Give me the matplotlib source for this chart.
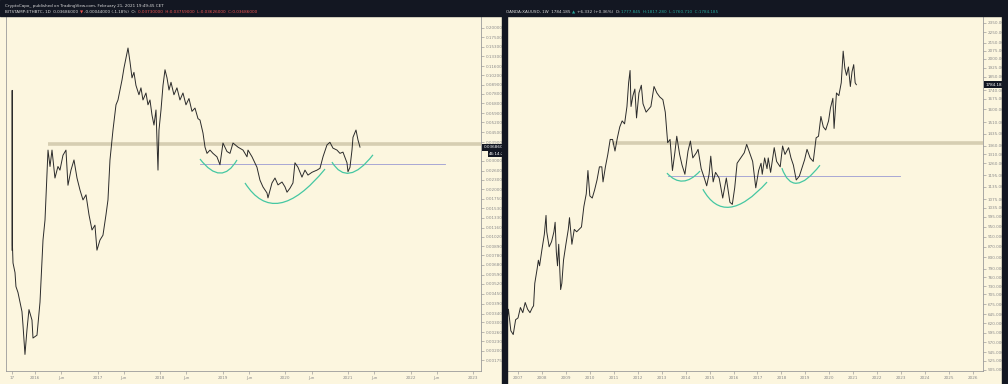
import matplotlib.pyplot as plt
import matplotlib.transforms as mtransforms
from matplotlib.patches import PathPatch, Rectangle
from matplotlib.path import Path
from matplotlib.ticker import FixedLocator, FixedFormatter, NullLocator
import numpy as np

# ETH/BTC (left, daily) - decimal year / price
eth_t = [2015.633, 2015.636, 2015.640, 2015.649, 2015.681, 2015.696, 2015.728, 2015.792, 2015.808,
         2015.840, 2015.872, 2015.904, 2015.952, 2015.968, 2016.032, 2016.080, 2016.112, 2016.128,
         2016.160, 2016.208, 2016.240, 2016.272, 2016.319, 2016.367, 2016.399, 2016.447, 2016.495,
         2016.527, 2016.575, 2016.623, 2016.671, 2016.719, 2016.767, 2016.815, 2016.863, 2016.911,
         2016.958, 2016.990, 2017.038, 2017.086, 2017.134, 2017.166, 2017.198, 2017.246, 2017.294,
         2017.326, 2017.358, 2017.390, 2017.422, 2017.454, 2017.486, 2017.518, 2017.550, 2017.581,
         2017.613, 2017.661, 2017.693, 2017.725, 2017.773, 2017.805, 2017.837, 2017.869, 2017.901,
         2017.933, 2017.965, 2017.981, 2018.013, 2018.045, 2018.077, 2018.109, 2018.141, 2018.173,
         2018.220, 2018.268, 2018.316, 2018.364, 2018.412, 2018.460, 2018.508, 2018.556, 2018.604,
         2018.636, 2018.684, 2018.716, 2018.748, 2018.796, 2018.843, 2018.907, 2018.955, 2019.003,
         2019.067, 2019.115, 2019.163, 2019.243, 2019.323, 2019.387, 2019.403, 2019.467, 2019.546,
         2019.594, 2019.642, 2019.706, 2019.722, 2019.786, 2019.834, 2019.882, 2019.946, 2019.994,
         2020.026, 2020.073, 2020.121, 2020.153, 2020.201, 2020.265, 2020.313, 2020.361, 2020.425,
         2020.505, 2020.553, 2020.601, 2020.665, 2020.712, 2020.760, 2020.824, 2020.872, 2020.920,
         2020.984, 2021.000, 2021.032, 2021.064, 2021.080, 2021.128, 2021.160, 2021.192]
eth_px = [0.0084, 0.0820, 0.0090, 0.0070, 0.0061, 0.0050, 0.0046, 0.0035, 0.0029,
          0.0019, 0.0027, 0.0036, 0.0031, 0.0024, 0.0025, 0.0040, 0.0073, 0.0097,
          0.0129, 0.0350, 0.0277, 0.0350, 0.0235, 0.0277, 0.0263, 0.0325, 0.0350,
          0.0212, 0.0263, 0.0304, 0.0235, 0.0198, 0.0172, 0.0185, 0.0139, 0.0112,
          0.0120, 0.0084, 0.0097, 0.0104, 0.0139, 0.0172, 0.0304, 0.0466, 0.0667,
          0.0715, 0.0824, 0.0950, 0.1130, 0.1300, 0.1500, 0.1230, 0.0980, 0.1060,
          0.0880, 0.0770, 0.0850, 0.0715, 0.0790, 0.0667, 0.0715, 0.0577, 0.0500,
          0.0620, 0.0263, 0.0466, 0.0620, 0.0880, 0.1100, 0.0980, 0.0824, 0.0920,
          0.0770, 0.0850, 0.0715, 0.0790, 0.0667, 0.0730, 0.0608, 0.0637, 0.0548,
          0.0537, 0.0446, 0.0365, 0.0334, 0.0350, 0.0334, 0.0318, 0.0284, 0.0387,
          0.0343, 0.0334, 0.0387, 0.0365, 0.0350, 0.0318, 0.0350, 0.0318, 0.0274,
          0.0228, 0.0207, 0.0190, 0.0177, 0.0219, 0.0235, 0.0213, 0.0222, 0.0207,
          0.0192, 0.0203, 0.0219, 0.0292, 0.0274, 0.0238, 0.0263, 0.0245, 0.0255,
          0.0263, 0.0270, 0.0318, 0.0377, 0.0391, 0.0360, 0.0350, 0.0334, 0.0340,
          0.0292, 0.0257, 0.0274, 0.0350, 0.0420, 0.0466, 0.0404, 0.0365]

# XAU/USD (right, weekly)
xau_t = [2006.55, 2006.60, 2006.70, 2006.80, 2006.90, 2007.00, 2007.10, 2007.20, 2007.30, 2007.40,
         2007.50, 2007.60, 2007.65, 2007.70, 2007.80, 2007.85, 2007.90, 2008.00, 2008.10, 2008.17,
         2008.20, 2008.30, 2008.40, 2008.50, 2008.55, 2008.60, 2008.65, 2008.70, 2008.78, 2008.83,
         2008.90, 2009.00, 2009.10, 2009.15, 2009.25, 2009.35, 2009.45, 2009.55, 2009.65, 2009.75,
         2009.85, 2009.92, 2010.00, 2010.10, 2010.20, 2010.30, 2010.40, 2010.50, 2010.55, 2010.65,
         2010.75, 2010.85, 2010.95, 2011.05, 2011.15, 2011.25, 2011.35, 2011.45, 2011.55, 2011.62,
         2011.68, 2011.72, 2011.80, 2011.88, 2011.95, 2012.05, 2012.15, 2012.22, 2012.35, 2012.45,
         2012.55, 2012.68, 2012.80, 2012.92, 2013.05, 2013.15, 2013.25, 2013.35, 2013.45, 2013.55,
         2013.63, 2013.75, 2013.85, 2013.97, 2014.10, 2014.20, 2014.30, 2014.45, 2014.52, 2014.65,
         2014.78, 2014.88, 2014.98, 2015.05, 2015.15, 2015.25, 2015.40, 2015.55, 2015.70, 2015.85,
         2015.95, 2016.05, 2016.15, 2016.30, 2016.45, 2016.55, 2016.70, 2016.80, 2016.93, 2017.05,
         2017.15, 2017.20, 2017.30, 2017.40, 2017.45, 2017.55, 2017.70, 2017.80, 2017.95, 2018.05,
         2018.15, 2018.30, 2018.40, 2018.50, 2018.62, 2018.75, 2018.85, 2018.97, 2019.07, 2019.20,
         2019.33, 2019.45, 2019.55, 2019.65, 2019.75, 2019.85, 2019.97, 2020.05, 2020.15, 2020.20,
         2020.30, 2020.40, 2020.50, 2020.58, 2020.65, 2020.72, 2020.80, 2020.88, 2020.95, 2021.02,
         2021.08, 2021.13]
xau_px = [630, 660, 600, 590, 630, 635, 665, 650, 680, 660,
          650, 665, 670, 740, 790, 820, 800, 860, 920, 1000,
          930, 870, 890, 930, 970, 850, 800, 880, 720, 740,
          820, 880, 940, 990, 880, 940, 930, 940, 950, 1040,
          1100, 1220, 1090, 1080, 1120, 1170, 1240, 1240, 1160, 1240,
          1310, 1400, 1400, 1330, 1410, 1480, 1520, 1500, 1620, 1800,
          1900, 1620, 1700, 1750, 1540, 1720, 1780, 1640, 1580, 1600,
          1620, 1770, 1720, 1690, 1670, 1580, 1380, 1400, 1220, 1320,
          1420, 1310, 1250, 1200, 1330, 1390, 1290, 1320, 1340, 1230,
          1180, 1140, 1200, 1300, 1160, 1210, 1180, 1080, 1180, 1060,
          1050, 1130, 1260, 1290, 1320, 1370, 1310, 1270, 1130, 1220,
          1260, 1200, 1290, 1230, 1290, 1210, 1350, 1270, 1240, 1360,
          1310, 1350, 1290, 1250, 1170, 1190, 1230, 1280, 1340, 1290,
          1270, 1410, 1420, 1550, 1480, 1460, 1520, 1610, 1680, 1470,
          1720, 1700, 1800, 2070, 1920, 1860, 1930, 1770, 1890, 1950,
          1800, 1784]

# cup annotations: start, bottom, end
eth_cup_t = [[2018.636, 2018.955, 2019.227], [2019.355, 2019.914, 2020.633], [2020.744, 2021.032, 2021.399]]
eth_cup_px = [[0.0308, 0.0252, 0.0304], [0.0219, 0.01645, 0.0267], [0.0295, 0.0252, 0.0327]]
xau_cup_t = [[2013.22, 2013.89, 2014.60], [2014.72, 2015.85, 2017.40], [2018.02, 2018.65, 2019.61]]
xau_cup_px = [[1206, 1164, 1217], [1123, 1037, 1159], [1233, 1153, 1249]]

# axis ticks
eth_xticks = [2015.63, 2016.0, 2016.42, 2017.0, 2017.42, 2018.0, 2018.42, 2019.0, 2019.42,
              2020.0, 2020.42, 2021.0, 2021.42, 2022.0, 2022.42, 2023.0]
eth_xlabels = ['17', '2016', 'Jun', '2017', 'Jun', '2018', 'Jun', '2019', 'Jun',
               '2020', 'Jun', '2021', 'Jun', '2022', 'Jun', '2023']
eth_yticks = [0.2, 0.175, 0.153, 0.133, 0.116, 0.102, 0.089, 0.078, 0.068, 0.059, 0.052, 0.045,
              0.039, 0.030, 0.026, 0.023, 0.020, 0.0175, 0.0153, 0.0133, 0.0116, 0.0102,
              0.0089, 0.0078, 0.0068, 0.0059, 0.0052, 0.0045, 0.0039, 0.0034, 0.0030, 0.0026,
              0.0023, 0.0020, 0.00175]
xau_xticks = list(range(2007, 2027))
xau_yticks = [2350, 2250, 2150, 2075, 2000, 1925, 1850, 1740, 1675, 1600, 1510, 1435, 1360,
              1310, 1260, 1195, 1135, 1075, 1035, 995, 950, 910, 870, 830, 790, 760, 730, 705,
              675, 645, 620, 595, 570, 545, 525, 505]

W, H = 1008, 384
BG = '#fcf6df'
DARK = '#131722'
TAN = '#d6ceb2'
CUP = '#45c7a2'
LEVEL = '#9a9ad2'


def px(x0, y0, x1, y1):
    return [x0 / W, 1 - y1 / H, (x1 - x0) / W, (y1 - y0) / H]


def style_axes(ax, xticks, xlabels, yticks, fmt):
    ax.set_facecolor(BG)
    ax.set_yscale('log')
    ax.yaxis.tick_right()
    ax.yaxis.set_major_locator(FixedLocator(yticks))
    ax.yaxis.set_major_formatter(FixedFormatter([fmt % v for v in yticks]))
    ax.yaxis.set_minor_locator(NullLocator())
    ax.set_xticks(xticks)
    ax.set_xticklabels(xlabels)
    ax.tick_params(axis='both', direction='out', length=2, width=0.4, pad=1.5,
                   labelsize=3, colors='#8a8a8a')
    ax.spines['top'].set_visible(False)
    for s in ['left', 'bottom', 'right']:
        ax.spines[s].set_color('#9a9a9a')
        ax.spines[s].set_linewidth(0.6)


def draw_cups(ax, ts, ps):
    for t, p in zip(ts, ps):
        ctl_t = 2 * t[1] - (t[0] + t[2]) / 2
        ctl_p = p[1] ** 2 / np.sqrt(p[0] * p[2])
        path = Path([(t[0], p[0]), (ctl_t, ctl_p), (t[2], p[2])],
                    [Path.MOVETO, Path.CURVE3, Path.CURVE3])
        ax.add_patch(PathPatch(path, fc='none', ec=CUP, lw=0.9, zorder=4))


def price_tag(ax, value, label, dx=0, dy=0, fs=3):
    trans = mtransforms.blended_transform_factory(ax.transAxes, ax.transData)
    ax.annotate(label, xy=(1.0, value), xycoords=trans, xytext=(2 + dx, dy),
                textcoords='offset points', ha='left', va='center', fontsize=fs,
                color='white', annotation_clip=False, zorder=10,
                bbox=dict(boxstyle='square,pad=0.35', fc=DARK, ec='none'))


def header_line(fig, x_px, y_px, parts):
    # lay the coloured pieces of a header one after another
    renderer = fig.canvas.get_renderer()
    x = x_px / W
    for s, c in parts:
        t = fig.text(x, 1 - y_px / H, s, color=c, fontsize=3, va='center', ha='left', zorder=21)
        bb = t.get_window_extent(renderer)
        x = (bb.x1 + 1.5) / W


fig = plt.figure(figsize=(W / 100, H / 100), dpi=100)
fig.patch.set_facecolor(BG)

# left chart
ax1 = fig.add_axes(px(6, 17, 481, 371))
style_axes(ax1, eth_xticks, eth_xlabels, eth_yticks, '%.7f')
ax1.set_xlim(2015.537, 2023.125)
ax1.set_ylim(0.0015, 0.2334)
ax1.plot([2016.208, 2023.2], [0.0382, 0.0382], color=TAN, lw=2.6, solid_capstyle='butt', zorder=2)
ax1.plot([2018.64, 2022.55], [0.0287, 0.0287], color=LEVEL, lw=0.6, zorder=2)
ax1.plot(eth_t, eth_px, color='#2b2b2b', lw=0.7, zorder=3)
draw_cups(ax1, eth_cup_t, eth_cup_px)
price_tag(ax1, eth_px[-1], '0.03686000')
price_tag(ax1, eth_px[-1], '46:14:27', dx=4, dy=-4.6)

# right chart
ax2 = fig.add_axes(px(507, 17, 983, 371))
style_axes(ax2, xau_xticks, [str(y) for y in xau_xticks], xau_yticks, '%.3f')
ax2.set_xlim(2006.54, 2026.42)
ax2.set_ylim(502, 2408)
ax2.plot([2010.92, 2026.5], [1378, 1378], color=TAN, lw=2.6, solid_capstyle='butt', zorder=2)
ax2.plot([2013.26, 2022.95], [1190, 1190], color=LEVEL, lw=0.6, zorder=2)
ax2.plot(xau_t, xau_px, color='#2b2b2b', lw=0.7, zorder=3)
draw_cups(ax2, xau_cup_t, xau_cup_px)
price_tag(ax2, xau_px[-1], '1784.185')

# dark frame pieces: header, separator, right edge
fig.add_artist(Rectangle((0, 1 - 16 / H), 1, 16 / H, transform=fig.transFigure, color=DARK, zorder=20))
fig.add_artist(Rectangle((502 / W, 0), 5 / W, 1, transform=fig.transFigure, color=DARK, zorder=20))
fig.add_artist(Rectangle((1002 / W, 0), 6 / W, 1, transform=fig.transFigure, color=DARK, zorder=20))

# header texts
WHITE, RED, GREEN = '#d8d8d8', '#ef5350', '#26a69a'
header_line(fig, 5, 6, [('CryptoCapo_ published on TradingView.com, February 21, 2021 19:49:45 CET', WHITE)])
header_line(fig, 5, 12, [('BITSTAMP:ETHBTC, 1D  0.03686000', WHITE), ('\u25bc', RED),
                         ('-0.00044000 (-1.18%)  O:', WHITE),
                         ('0.03730000  H:0.03759000  L:0.03626000  C:0.03686000', RED)])
header_line(fig, 506, 12, [('OANDA:XAUUSD, 1W  1784.185', WHITE), ('\u25b2', GREEN),
                           ('+6.332 (+0.36%)  O:', WHITE),
                           ('1777.845  H:1817.280  L:1760.710  C:1784.185', GREEN)])

fig.savefig('out.png', dpi=100, facecolor=BG)
